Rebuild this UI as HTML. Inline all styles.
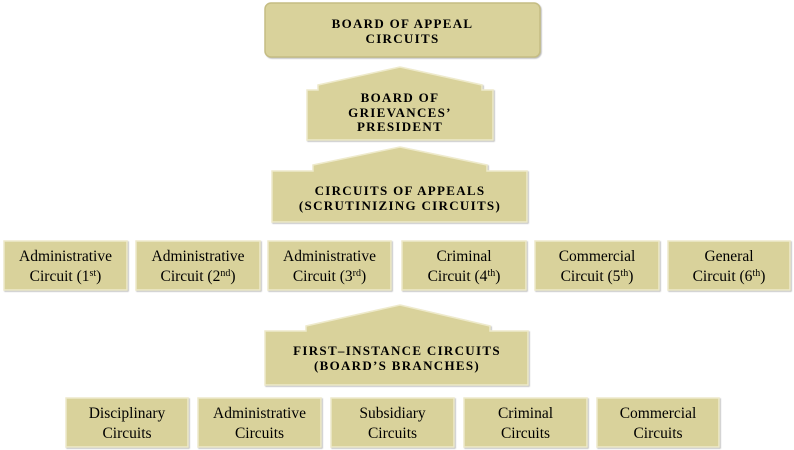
<!DOCTYPE html>
<html><head><meta charset="utf-8"><style>
html,body{margin:0;padding:0;background:#fff;}
body{position:relative;width:794px;height:450px;overflow:hidden;font-family:"Liberation Serif","DejaVu Serif",serif;}
svg{display:block;position:absolute;left:0;top:0}
.t{position:absolute;text-align:center;color:#000;white-space:nowrap;}
.b{font-weight:bold;font-size:13px;letter-spacing:1.3px;line-height:14.5px;}
.n{font-size:15.5px;line-height:19.5px;}
sup{font-size:10px;line-height:0;vertical-align:5px}
</style></head><body>
<svg width="794" height="450" viewBox="0 0 794 450" xmlns="http://www.w3.org/2000/svg">
<defs>
<filter id="sh"><feDropShadow dx="1" dy="1" stdDeviation="0.6" flood-color="#bbb"/></filter>
</defs>
<g fill="#d9d29b" stroke="#eeeacb" stroke-width="1.5" filter="url(#sh)">
<rect x="265" y="3" width="275" height="54" rx="6" stroke="#c5bd83"/>
<polygon points="307,90 318,90 318,85 400,67 482,85 482,90 493,90 493,140 307,140"/>
<polygon points="272,171 313,171 313,165 400,147 487,165 487,171 527,171 527,222 272,222"/>
<polygon points="265,331 306,331 306,326 400,305 490,326 490,331 528,331 528,385 265,385"/>
<rect x="4" y="241" width="123" height="49"/>
<rect x="136" y="241" width="124" height="49"/>
<rect x="268" y="241" width="123" height="49"/>
<rect x="402" y="241" width="124" height="49"/>
<rect x="535" y="241" width="124" height="49"/>
<rect x="668" y="241" width="122" height="49"/>
<rect x="66" y="398" width="122" height="49"/>
<rect x="198" y="398" width="123" height="49"/>
<rect x="331" y="398" width="123" height="49"/>
<rect x="464" y="398" width="123" height="49"/>
<rect x="597" y="398" width="122" height="49"/>
</g>
</svg>
<div class="t b" style="left:265px;width:275px;top:17px">BOARD OF APPEAL<br>CIRCUITS</div>
<div class="t b" style="left:300px;width:200px;top:91px">BOARD OF<br>GRIEVANCES’<br>PRESIDENT</div>
<div class="t b" style="left:250px;width:300px;top:184px">CIRCUITS OF APPEALS<br>(SCRUTINIZING CIRCUITS)</div>
<div class="t b" style="left:247px;width:300px;top:344px">FIRST–INSTANCE CIRCUITS<br>(BOARD’S BRANCHES)</div>
<div class="t n" style="left:4px;width:123px;top:247px">Administrative<br>Circuit (1<sup>st</sup>)</div>
<div class="t n" style="left:136px;width:124px;top:247px">Administrative<br>Circuit (2<sup>nd</sup>)</div>
<div class="t n" style="left:268px;width:123px;top:247px">Administrative<br>Circuit (3<sup>rd</sup>)</div>
<div class="t n" style="left:402px;width:124px;top:247px">Criminal<br>Circuit (4<sup>th</sup>)</div>
<div class="t n" style="left:535px;width:124px;top:247px">Commercial<br>Circuit (5<sup>th</sup>)</div>
<div class="t n" style="left:668px;width:122px;top:247px">General<br>Circuit (6<sup>th</sup>)</div>
<div class="t n" style="left:66px;width:122px;top:404px">Disciplinary<br>Circuits</div>
<div class="t n" style="left:198px;width:123px;top:404px">Administrative<br>Circuits</div>
<div class="t n" style="left:331px;width:123px;top:404px">Subsidiary<br>Circuits</div>
<div class="t n" style="left:464px;width:123px;top:404px">Criminal<br>Circuits</div>
<div class="t n" style="left:597px;width:122px;top:404px">Commercial<br>Circuits</div>
</body></html>
